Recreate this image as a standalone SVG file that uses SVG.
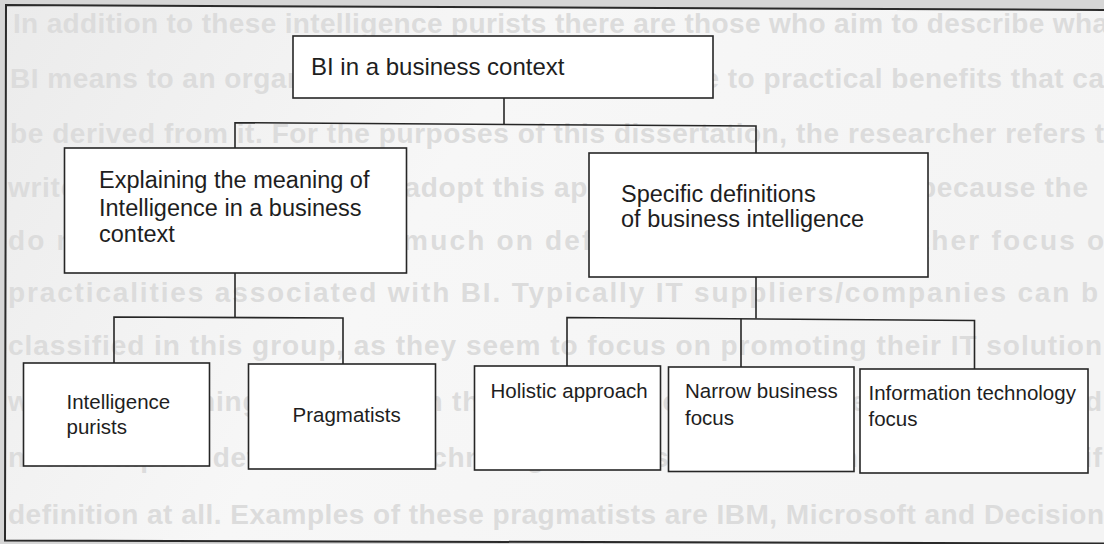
<svg xmlns="http://www.w3.org/2000/svg" width="1104" height="544" viewBox="0 0 1104 544">
  <defs>
    <linearGradient id="paper" x1="0" y1="0" x2="1" y2="0.3">
      <stop offset="0" stop-color="#ebebeb"/>
      <stop offset="0.45" stop-color="#f7f7f7"/>
      <stop offset="1" stop-color="#f4f4f4"/>
    </linearGradient>
    <style>
      .bg { font-family: "Liberation Sans", Arial, sans-serif; font-size: 28px; font-weight: bold; fill: #dcdcdc; }
      .box { fill: #ffffff; stroke: #262626; stroke-width: 1.6; }
      .wire { fill: none; stroke: #262626; stroke-width: 1.6; }
      .frame { fill: none; stroke: #2a2a2a; stroke-width: 2; }
      .lbl { font-family: "Liberation Sans", Arial, sans-serif; fill: #1e1e1e; }
      .big { font-size: 24px; }
      .mid { font-size: 23.5px; }
      .small { font-size: 20.5px; }
    </style>
  </defs>

  <rect x="0" y="0" width="1104" height="544" fill="#d6d6d6"/>
  <path d="M6,5 L1104,10 L1104,543.5 L5,540.5 Z" fill="url(#paper)"/>

  <g id="page-text" class="bg">
    <text x="13" y="33" textLength="1095" lengthAdjust="spacing">In addition to these intelligence purists there are those who aim to describe wha</text>
    <text x="10" y="88" textLength="1094" lengthAdjust="spacing">BI means to an organisation with specific reference to practical benefits that ca</text>
    <text x="10" y="143" textLength="1094" lengthAdjust="spacing">be derived from it.  For the purposes of this dissertation, the researcher refers t</text>
    <text x="8" y="197" textLength="1080" lengthAdjust="spacing">writers and institutions that adopt this approach as pragmatists, because the</text>
    <text x="8" y="250" textLength="1096" lengthAdjust="spacing">do not seem to focus too much on defining the term, but rather focus o</text>
    <text x="8" y="302" textLength="1090" lengthAdjust="spacing">practicalities associated with BI.  Typically IT suppliers/companies can b</text>
    <text x="8" y="355" textLength="1094" lengthAdjust="spacing">classified in this group, as they seem to focus on promoting their IT solution</text>
    <text x="8" y="411" textLength="1094" lengthAdjust="spacing">without becoming entangled in the details of defining BI. These pragmatists d</text>
    <text x="8" y="467" textLength="1094" lengthAdjust="spacing">not attempt to define BI in a technological sense either, as they offer no specif</text>
    <text x="8" y="524" textLength="1096" lengthAdjust="spacing">definition at all. Examples of these pragmatists are IBM, Microsoft and Decision</text>
  </g>

  <path class="frame" d="M1104,10 L6,5 L5,540.5 L1104,543.5"/>

  <g id="connectors" class="wire">
    <path d="M504,98 L504,124"/>
    <path d="M235,148 L235,122.7 L756,126 L756,153"/>
    <path d="M235,273 L235,317"/>
    <path d="M114,363 L114,317 L343,318 L343,364"/>
    <path d="M756,277 L756,318.5"/>
    <path d="M567,366 L567,317.5 L974.5,320.5 L974.5,369"/>
    <path d="M741,318.5 L741,367"/>
  </g>

  <g id="node-root">
    <rect class="box" x="293" y="36" width="420" height="62"/>
    <text class="lbl big" x="311" y="75">BI in a business context</text>
  </g>

  <g id="node-explaining">
    <rect class="box" x="64.5" y="148" width="342" height="125"/>
    <text class="lbl mid" x="99" y="188">Explaining the meaning of</text>
    <text class="lbl mid" x="99" y="215.5">Intelligence in a business</text>
    <text class="lbl mid" x="99" y="242">context</text>
  </g>

  <g id="node-specific">
    <rect class="box" x="589" y="153" width="339" height="124"/>
    <text class="lbl mid" x="621" y="201.5">Specific definitions</text>
    <text class="lbl mid" x="621" y="227">of business intelligence</text>
  </g>

  <g id="node-purists">
    <rect class="box" x="23.5" y="363" width="186" height="103"/>
    <text class="lbl small" x="66.5" y="409">Intelligence</text>
    <text class="lbl small" x="66.5" y="434">purists</text>
  </g>

  <g id="node-pragmatists">
    <rect class="box" x="248.5" y="364" width="187" height="105"/>
    <text class="lbl small" x="292.5" y="421.5">Pragmatists</text>
  </g>

  <g id="node-holistic">
    <rect class="box" x="474.5" y="366" width="186" height="104"/>
    <text class="lbl small" x="490.5" y="397.5">Holistic approach</text>
  </g>

  <g id="node-narrow">
    <rect class="box" x="668.5" y="367" width="185.5" height="104.5"/>
    <text class="lbl small" x="685" y="397.5">Narrow business</text>
    <text class="lbl small" x="685" y="425">focus</text>
  </g>

  <g id="node-it">
    <rect class="box" x="860" y="369" width="228" height="104"/>
    <text class="lbl small" x="868.5" y="400">Information technology</text>
    <text class="lbl small" x="868.5" y="426">focus</text>
  </g>
</svg>
